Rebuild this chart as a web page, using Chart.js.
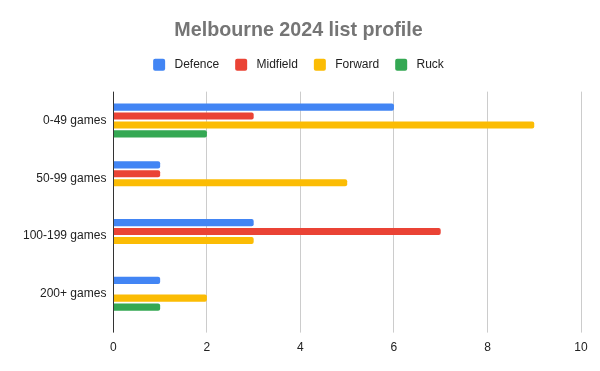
<!DOCTYPE html>
<html>
<head>
<meta charset="utf-8">
<script src="https://cdn.jsdelivr.net/npm/chart.js@4"></script>
<style>
  html, body { margin: 0; padding: 0; background: #fff; }
  #wrap { width: 600px; height: 371px; position: relative; }
</style>
</head>
<body>
<div id="wrap"><canvas id="c"></canvas></div>
<script>
const categories = ["0-49 games", "50-99 games", "100-199 games", "200+ games"];
const defence = [6, 1, 3, 1];
const midfield = [3, 1, 7, 0];
const forward = [9, 5, 3, 2];
const ruck = [2, 0, 0, 1];
const xTicks = [0, 2, 4, 6, 8, 10];

const FONT = '"Liberation Sans", Arial, sans-serif';

const mk = (label, data, color) => ({
  label, data, backgroundColor: color, borderColor: color,
  borderRadius: 2, borderSkipped: 'start',
  barPercentage: 0.8, categoryPercentage: 0.62
});

const legendSpacer = {
  id: 'legendSpacer',
  beforeInit(chart) {
    const orig = chart.legend.fit;
    chart.legend.fit = function () {
      orig.bind(chart.legend)();
      this.height += 11;
    };
  }
};

new Chart(document.getElementById('c'), {
  type: 'bar',
  data: {
    labels: categories,
    datasets: [
      mk('Defence', defence, '#4285F4'),
      mk('Midfield', midfield, '#EA4335'),
      mk('Forward', forward, '#FBBC04'),
      mk('Ruck', ruck, '#34A853')
    ]
  },
  plugins: [legendSpacer],
  options: {
    indexAxis: 'y',
    responsive: true,
    maintainAspectRatio: false,
    animation: false,
    layout: { padding: { left: 16, right: 19, top: 9, bottom: 8 } },
    plugins: {
      title: {
        display: true,
        text: 'Melbourne 2024 list profile',
        color: '#757575',
        font: { family: FONT, size: 19.7, weight: 'bold' },
        padding: { top: 10, bottom: 0 }
      },
      legend: {
        display: true,
        position: 'top',
        labels: {
          usePointStyle: false,
          useBorderRadius: true,
          borderRadius: 2,
          boxWidth: 12,
          boxHeight: 12,
          padding: 16,
          color: '#222222',
          font: { family: FONT, size: 12 },
          generateLabels: (chart) =>
            Chart.defaults.plugins.legend.labels.generateLabels(chart)
              .map(l => Object.assign(l, { text: ' ' + l.text }))
        }
      },
      tooltip: { enabled: false }
    },
    scales: {
      x: {
        min: 0, max: 10,
        afterBuildTicks: (axis) => { axis.ticks = xTicks.map(v => ({ value: v })); },
        grid: {
          color: (ctx) => ctx.tick && ctx.tick.value === 0 ? '#333333' : '#cccccc',
          lineWidth: 1,
          drawTicks: true,
          tickLength: 10
        },
        border: { display: false },
        ticks: {
          color: '#222222',
          font: { family: FONT, size: 12 },
          padding: 8
        }
      },
      y: {
        grid: { display: false, drawTicks: false },
        border: { display: false },
        ticks: {
          color: '#222222',
          font: { family: FONT, size: 12 },
          padding: 7
        }
      }
    }
  }
});
</script>
</body>
</html>
